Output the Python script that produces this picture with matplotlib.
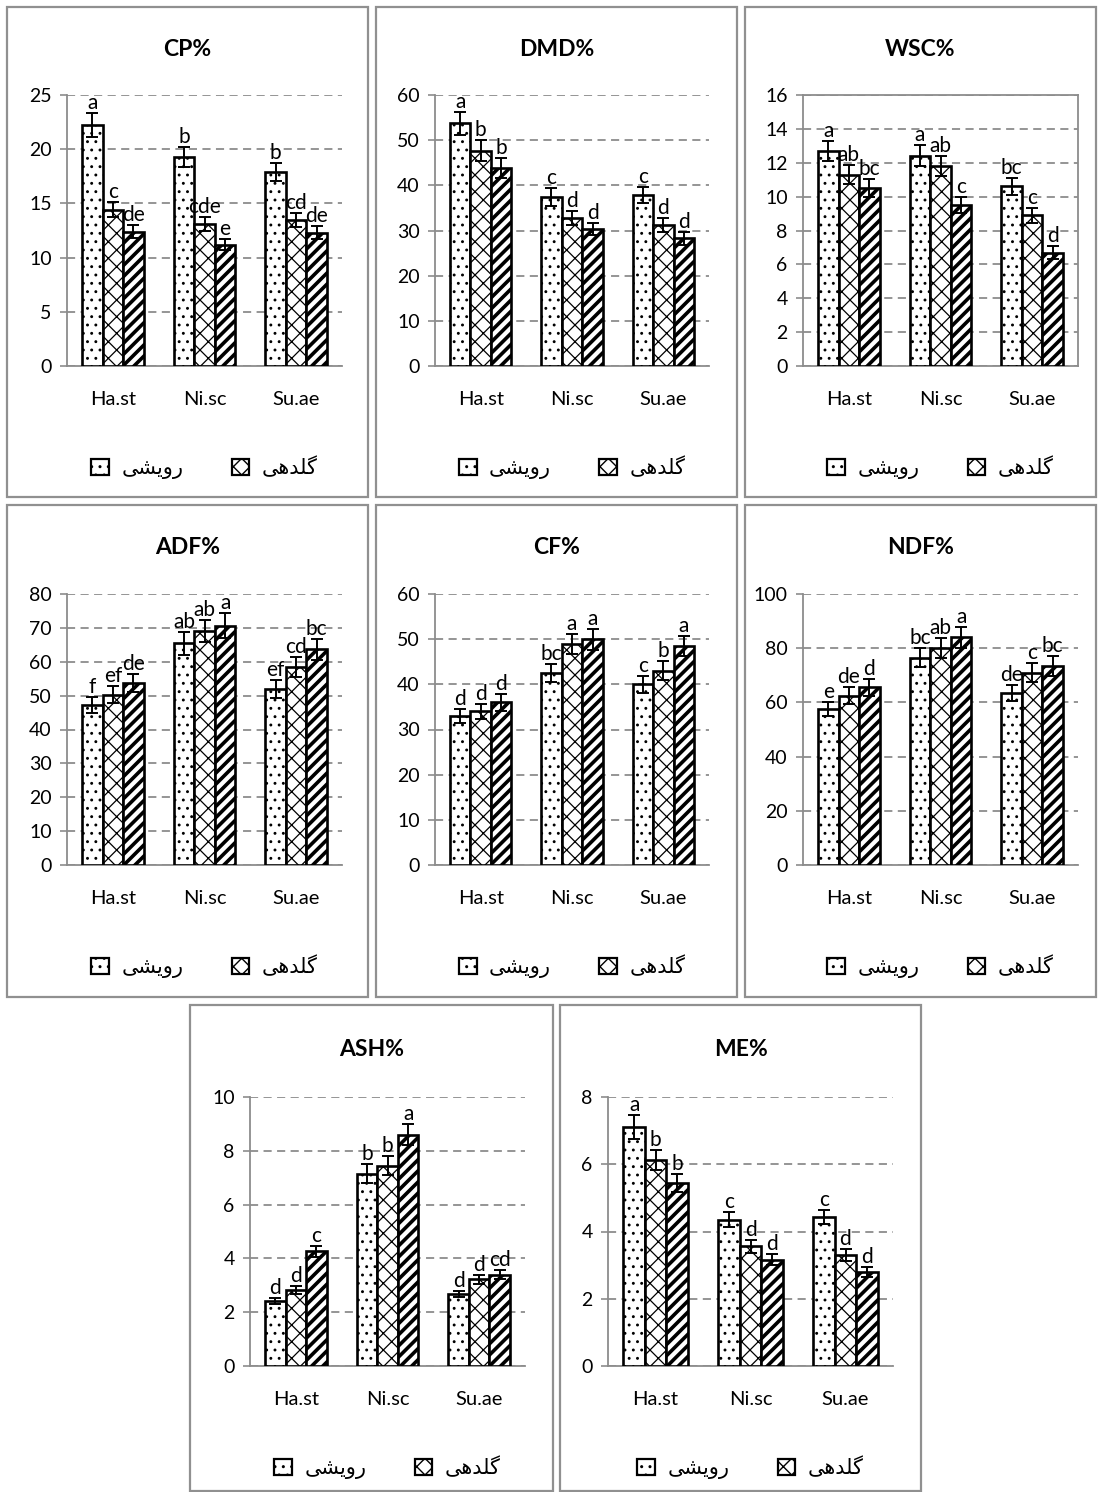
import numpy as np
import matplotlib
matplotlib.use("Agg")
import matplotlib.pyplot as plt
from matplotlib.patches import Rectangle, Patch

# ---------------- data ----------------
categories = ["Ha.st", "Ni.sc", "Su.ae"]
legend_labels = ["رویشی", "گلدهی"]

titles = ["CP%", "DMD%", "WSC%", "ADF%", "CF%", "NDF%", "ASH%", "ME%"]
y_max = [25, 60, 16, 80, 60, 100, 10, 8]
y_step = [5, 10, 2, 10, 10, 20, 2, 2]

# values per panel: rows = series (stage 1, stage 2, stage 3), columns = categories
cp_vals = [[22.2, 19.3, 17.9], [14.4, 13.1, 13.5], [12.4, 11.2, 12.3]]
cp_err = [[1.1, 0.93, 0.86], [0.7, 0.65, 0.65], [0.6, 0.5, 0.59]]
cp_let = [["a", "b", "b"], ["c", "cde", "cd"], ["de", "e", "de"]]

dmd_vals = [[53.7, 37.4, 37.9], [47.7, 32.8, 31.2], [43.8, 30.4, 28.3]]
dmd_err = [[2.6, 1.9, 1.8], [2.3, 1.6, 1.6], [2.2, 1.3, 1.4]]
dmd_let = [["a", "c", "c"], ["b", "d", "d"], ["b", "d", "d"]]

wsc_vals = [[12.7, 12.4, 10.6], [11.3, 11.8, 8.9], [10.5, 9.5, 6.7]]
wsc_err = [[0.6, 0.62, 0.52], [0.56, 0.58, 0.44], [0.52, 0.48, 0.36]]
wsc_let = [["a", "a", "bc"], ["ab", "ab", "c"], ["bc", "c", "d"]]

adf_vals = [[47.3, 65.4, 51.9], [50.3, 69.1, 58.4], [53.7, 70.7, 63.7]]
adf_err = [[2.3, 3.3, 2.7], [2.6, 3.3, 3.0], [2.7, 3.6, 3.1]]
adf_let = [["f", "ab", "ef"], ["ef", "ab", "cd"], ["de", "a", "bc"]]

cf_vals = [[33.0, 42.5, 40.0], [34.0, 49.0, 43.0], [36.0, 50.0, 48.5]]
cf_err = [[1.5, 2.0, 1.9], [1.7, 2.2, 2.1], [1.8, 2.3, 2.3]]
cf_let = [["d", "bc", "c"], ["d", "a", "b"], ["d", "a", "a"]]

ndf_vals = [[57.5, 76.5, 63.5], [62.5, 80.0, 71.0], [65.5, 84.0, 73.5]]
ndf_err = [[2.6, 3.5, 3.0], [3.0, 3.8, 3.5], [3.0, 4.0, 3.6]]
ndf_let = [["e", "bc", "de"], ["de", "ab", "c"], ["d", "a", "bc"]]

ash_vals = [[2.42, 7.15, 2.68], [2.83, 7.45, 3.22], [4.27, 8.6, 3.4]]
ash_err = [[0.12, 0.35, 0.11], [0.14, 0.35, 0.16], [0.2, 0.4, 0.17]]
ash_let = [["d", "b", "d"], ["d", "b", "d"], ["c", "a", "cd"]]

me_vals = [[7.11, 4.35, 4.43], [6.12, 3.56, 3.29], [5.44, 3.16, 2.8]]
me_err = [[0.35, 0.22, 0.2], [0.3, 0.19, 0.18], [0.27, 0.16, 0.14]]
me_let = [["a", "c", "c"], ["b", "d", "d"], ["b", "d", "d"]]

all_vals = [cp_vals, dmd_vals, wsc_vals, adf_vals, cf_vals, ndf_vals, ash_vals, me_vals]
all_err = [cp_err, dmd_err, wsc_err, adf_err, cf_err, ndf_err, ash_err, me_err]
all_let = [cp_let, dmd_let, wsc_let, adf_let, cf_let, ndf_let, ash_let, me_let]

# ---------------- simple Arabic-script shaping for Persian labels ----------------
FORMS = {
    'ر': ('\uFEAD', '\uFEAE', None, None),
    'و': ('\uFEED', '\uFEEE', None, None),
    'ی': ('\uFBFC', '\uFBFD', '\uFBFE', '\uFBFF'),
    'ش': ('\uFEB5', '\uFEB6', '\uFEB7', '\uFEB8'),
    'گ': ('\uFB92', '\uFB93', '\uFB94', '\uFB95'),
    'ل': ('\uFEDD', '\uFEDE', '\uFEDF', '\uFEE0'),
    'د': ('\uFEA9', '\uFEAA', None, None),
    'ه': ('\uFEE9', '\uFEEA', '\uFEEB', '\uFEEC'),
}


def shape(s):
    out = []
    n = len(s)
    for i, ch in enumerate(s):
        if ch not in FORMS:
            out.append(ch)
            continue
        iso, fin, ini, med = FORMS[ch]
        dual = ini is not None
        jp = i > 0 and s[i - 1] in FORMS and FORMS[s[i - 1]][2] is not None
        jn = dual and i < n - 1 and s[i + 1] in FORMS
        if jp and jn:
            out.append(med)
        elif jp:
            out.append(fin)
        elif jn:
            out.append(ini)
        else:
            out.append(iso)
    return "".join(reversed(out))


# ---------------- layout (pixels) ----------------
W, H = 1100, 1492
fig = plt.figure(figsize=(W / 100, H / 100), dpi=100)
plt.rcParams['font.family'] = ['Lato', 'DejaVu Sans']

panels = [
    (7, 368, 7, 497), (376, 737, 7, 497), (745, 1096, 7, 497),
    (7, 368, 505, 997), (376, 737, 505, 997), (745, 1096, 505, 997),
    (190, 553, 1005, 1491), (560, 921, 1005, 1491),
]
axes_px = [
    (67, 342, 95, 366), (435, 709, 95, 366), (803, 1078, 95, 366),
    (67, 342, 594, 865), (435, 709, 594, 865), (803, 1078, 594, 865),
    (250, 525, 1097, 1366), (608, 893, 1097, 1366),
]
title_y = [50, 50, 50, 548, 548, 548, 1050, 1050]
legend_y = [468, 468, 468, 967, 967, 967, 1468, 1468]

GRAY = '#8c8c8c'
hatches = ['..', 'xx', '///']
hatch_lws = [0.9, 0.9, 2.6]
bw = 0.225
offsets = [-bw, 0, bw]

for (x0, x1, y0, y1) in panels:
    fig.patches.append(Rectangle((x0 / W, 1 - y1 / H), (x1 - x0) / W, (y1 - y0) / H,
                                 transform=fig.transFigure, fill=False,
                                 edgecolor='#909090', linewidth=1.6))

x = np.arange(len(categories))
for k in range(8):
    l, r, t, b = axes_px[k]
    ax = fig.add_axes([l / W, 1 - b / H, (r - l) / W, (b - t) / H])
    vals, errs, lets = all_vals[k], all_err[k], all_let[k]
    for s in range(3):
        with plt.rc_context({'hatch.linewidth': hatch_lws[s]}):
            bars = ax.bar(x + offsets[s], vals[s], width=bw, color='white',
                          edgecolor='black', hatch=hatches[s], linewidth=1.9, zorder=3)
            for p in bars:
                if hasattr(p, 'set_hatch_linewidth'):
                    p.set_hatch_linewidth(hatch_lws[s])
        ax.errorbar(x + offsets[s], vals[s], yerr=errs[s], fmt='none', ecolor='black',
                    elinewidth=1.4, capsize=4.5, capthick=1.4, zorder=4)
        for i in range(3):
            ax.annotate(lets[s][i], (x[i] + offsets[s], vals[s][i] + errs[s][i]),
                        xytext=(0, 0), textcoords='offset points', ha='center', va='bottom',
                        fontsize=15, zorder=5)
    ax.set_xlim(-0.5, 2.5)
    ax.set_ylim(0, y_max[k])
    ax.set_yticks(np.arange(0, y_max[k] + 0.01, y_step[k]))
    ax.set_xticks(x)
    ax.set_xticklabels(categories, fontsize=14.5)
    ax.tick_params(axis='x', length=0, pad=18)
    ax.tick_params(axis='y', labelsize=14, length=5, color=GRAY, width=1.2, pad=6)
    ax.yaxis.grid(True, linestyle=(0, (4.5, 3)), color=GRAY, linewidth=1.3)
    ax.set_axisbelow(True)
    for sp in ['left', 'bottom']:
        ax.spines[sp].set_color(GRAY)
        ax.spines[sp].set_linewidth(1.3)
        ax.spines[sp].set_zorder(2.5)
    if k == 2:
        for sp in ['top', 'right']:
            ax.spines[sp].set_color(GRAY)
            ax.spines[sp].set_linewidth(1.3)
    else:
        ax.spines['top'].set_visible(False)
        ax.spines['right'].set_visible(False)
    ax.patch.set_alpha(0)

    px0, px1 = panels[k][0], panels[k][1]
    fig.text((px0 + px1) / 2 / W, 1 - title_y[k] / H, titles[k], ha='center', va='center',
             fontsize=16.5, fontweight='bold')

    handles = []
    for s in range(2):
        with plt.rc_context({'hatch.linewidth': hatch_lws[s]}):
            hp = Patch(facecolor='white', edgecolor='black', hatch=hatches[s], linewidth=1.6)
        handles.append(hp)
    fig.legend(handles, [shape(t) for t in legend_labels], loc='center',
               bbox_to_anchor=((l + r) / 2 / W, 1 - legend_y[k] / H), ncol=2, frameon=False,
               handlelength=0.85, handleheight=0.85, handletextpad=0.6, columnspacing=2.3,
               prop={'family': ['DejaVu Sans'], 'size': 15})

fig.savefig("out.png", dpi=100)
